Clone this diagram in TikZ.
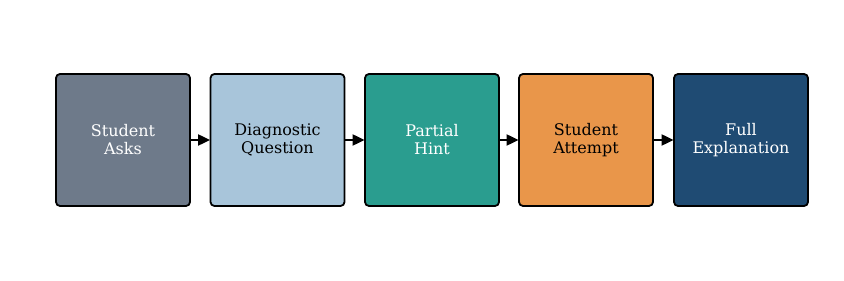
\documentclass[tikz,border=0pt]{standalone}
\usepackage{fontspec}
\setmainfont{DejaVu Serif}
\usetikzlibrary{arrows.meta}
\definecolor{cgray}{HTML}{6E7A8A}
\definecolor{clblue}{HTML}{A8C5DA}
\definecolor{cteal}{HTML}{2A9D8F}
\definecolor{corange}{HTML}{E9964A}
\definecolor{cnavy}{HTML}{1F4B73}
\tikzset{
  stagebox/.style={draw=black, line width=1.8pt, rounded corners=4pt, minimum width=134pt, minimum height=132pt, align=center, inner sep=0pt, font=\fontsize{16}{18}\selectfont},
  flowarrow/.style={-{Triangle[length=12pt,width=11pt]}, line width=2pt, black, shorten >=-0.5pt}
}
\begin{document}
\begin{tikzpicture}[x=1pt,y=1pt]
\useasboundingbox (0,0) rectangle (844,281);
\node[stagebox, fill=cgray, text=white] (a) at (123,141) {Student\\Asks};
\node[stagebox, fill=clblue, text=black] (b) at (277.5,141) {Diagnostic\\Question};
\node[stagebox, fill=cteal, text=white] (c) at (432,141) {Partial\\Hint};
\node[stagebox, fill=corange, text=black] (d) at (586,141) {Student\\Attempt};
\node[stagebox, fill=cnavy, text=white] (e) at (741,141) {Full\\Explanation};
\draw[flowarrow] (a) -- (b);
\draw[flowarrow] (b) -- (c);
\draw[flowarrow] (c) -- (d);
\draw[flowarrow] (d) -- (e);
\end{tikzpicture}
\end{document}
